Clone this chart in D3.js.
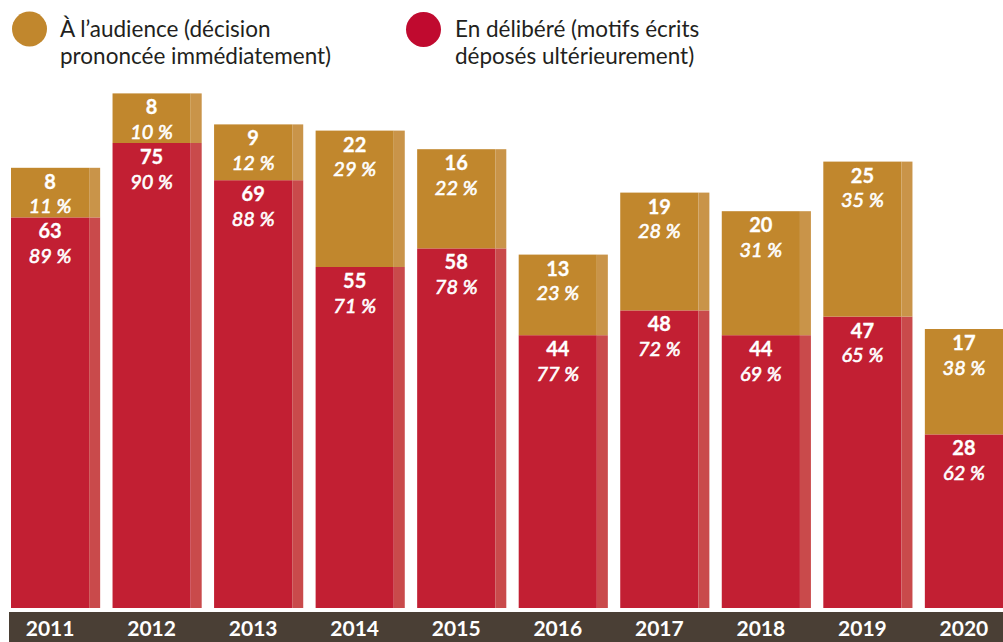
<!DOCTYPE html>
<html lang="fr">
<head>
<meta charset="utf-8">
<script src="https://cdn.jsdelivr.net/npm/d3@7"></script>
<style>
  html, body { margin: 0; padding: 0; background: #fff; }
  svg { display: block; }
  .legend text { font-family: Lato, "Noto Sans", sans-serif; font-size: 22.5px; fill: #231f20; }
  .lbl { font-family: Lato, "Noto Sans", sans-serif; font-size: 20px; fill: #fff; }
  .num { font-weight: 700; stroke: #fff; stroke-width: 0.3px; }
  .pct { font-style: italic; stroke: #fff; stroke-width: 0.6px; }
  .year { font-family: Lato, "Noto Sans", sans-serif; font-weight: 700; font-size: 21px; fill: #fff; }
</style>
</head>
<body>
<svg id="chart" width="1003" height="642"></svg>
<script>
// Décisions rendues par année : à l'audience vs en délibéré
const years = ["2011", "2012", "2013", "2014", "2015", "2016", "2017", "2018", "2019", "2020"];
const audience = [8, 8, 9, 22, 16, 13, 19, 20, 25, 17];
const delibere = [63, 75, 69, 55, 58, 44, 48, 44, 47, 28];
const audiencePct = ["11 %", "10 %", "12 %", "29 %", "22 %", "23 %", "28 %", "31 %", "35 %", "38 %"];
const deliberePct = ["89 %", "90 %", "88 %", "71 %", "78 %", "77 %", "72 %", "69 %", "65 %", "62 %"];
const legendLabels = [
  ["À l’audience (décision", "prononcée immédiatement)"],
  ["En délibéré (motifs écrits", "déposés ultérieurement)"]
];

const colors = {
  audience: "#c1872d", audienceEdge: "#c99449",
  delibere: "#c21f33", delibereEdge: "#c94a4b",
  legendAudience: "#c1872d", legendDelibere: "#c00a2f",
  band: "#4a3f35"
};

const svg = d3.select("#chart");

const x = d3.scaleBand().domain(years).range([11, 1014]).paddingInner(0.122).paddingOuter(0);
const y = d3.scaleLinear().domain([0, 83]).range([608, 93.4]);

const edgeW = 11;
const mainW = x.bandwidth() - edgeW;

const rows = years.map((yr, i) => ({
  year: yr,
  segs: [
    { key: "delibere", y0: 0, y1: delibere[i], v: delibere[i], pct: deliberePct[i] },
    { key: "audience", y0: delibere[i], y1: delibere[i] + audience[i], v: audience[i], pct: audiencePct[i] }
  ]
}));

const g = svg.append("g").selectAll("g").data(rows).join("g")
  .attr("transform", d => `translate(${x(d.year)},0)`);

const seg = g.selectAll("g.seg").data(d => d.segs).join("g").attr("class", "seg");

seg.append("rect")
  .attr("x", 0).attr("width", mainW)
  .attr("y", d => y(d.y1)).attr("height", d => y(d.y0) - y(d.y1))
  .attr("fill", d => colors[d.key]);

seg.append("rect")
  .attr("x", mainW).attr("width", edgeW)
  .attr("y", d => y(d.y1)).attr("height", d => y(d.y0) - y(d.y1))
  .attr("fill", d => colors[d.key + "Edge"]);

// Effectif (gras) puis part (italique) sous le haut du segment
seg.append("text").attr("class", "lbl num")
  .attr("x", mainW / 2).attr("y", d => y(d.y1) + 21)
  .attr("text-anchor", "middle").text(d => d.v);
seg.append("text").attr("class", "lbl pct")
  .attr("x", mainW / 2).attr("y", d => y(d.y1) + 45.5)
  .attr("text-anchor", "middle").text(d => d.pct);

// Bandeau des années
svg.append("rect").attr("x", 9).attr("y", 612).attr("width", 1003 - 9).attr("height", 30)
  .attr("fill", colors.band);

const xAxis = d3.axisBottom(x).tickSize(0).tickPadding(0);
const axisG = svg.append("g").attr("transform", "translate(0,612)").call(xAxis);
axisG.select(".domain").remove();
axisG.selectAll(".tick").attr("transform", d => `translate(${x(d) + mainW / 2},0)`);
axisG.selectAll(".tick text").attr("class", "year").attr("y", 24).attr("dy", null)
  .attr("fill", null).attr("font-size", null).attr("font-family", null);
axisG.attr("font-size", null).attr("font-family", null);

// Légende
const legend = svg.append("g").attr("class", "legend");
const legendItems = [
  { cx: 29.5, cy: 29, color: colors.legendAudience, tx: 60, lines: legendLabels[0] },
  { cx: 423.5, cy: 29.5, color: colors.legendDelibere, tx: 455, lines: legendLabels[1] }
];
const li = legend.selectAll("g").data(legendItems).join("g");
li.append("circle").attr("cx", d => d.cx).attr("cy", d => d.cy).attr("r", 17.5).attr("fill", d => d.color);
li.append("text").attr("x", d => d.tx).attr("y", 37)
  .selectAll("tspan").data(d => d.lines.map(l => ({ l, tx: d.tx }))).join("tspan")
  .attr("x", d => d.tx).attr("dy", (d, i) => i === 0 ? 0 : 27).text(d => d.l);
</script>
</body>
</html>
